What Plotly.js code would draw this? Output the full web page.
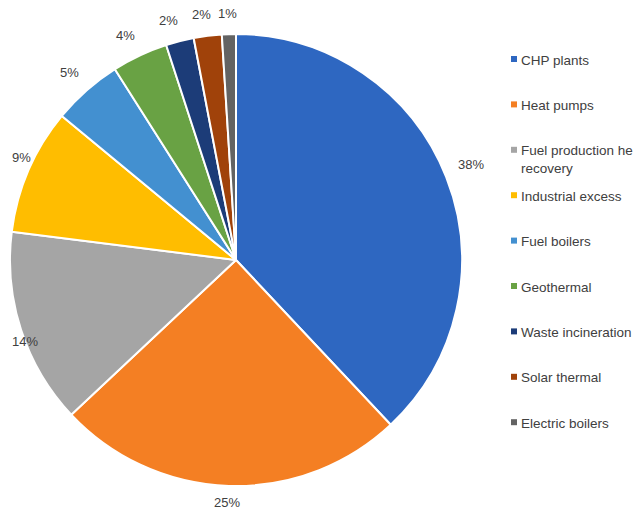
<!DOCTYPE html>
<html><head><meta charset="utf-8">
<script src="https://cdn.plot.ly/plotly-3.0.1.min.js"></script>
<style>html,body{margin:0;padding:0;background:#fff}#chart{width:635px;height:512px}</style>
</head><body><div id="chart"></div>
<script>
var categories = ["CHP plants","Heat pumps","Fuel production he<br>recovery","Industrial excess","Fuel boilers","Geothermal","Waste incineration","Solar thermal","Electric boilers"];
var shares = [38,25,14,9,5,4,2,2,1];
var colors = ["#2E67C1","#F47F23","#A5A5A5","#FFBD00","#4390D0","#69A244","#1C3C78","#A0420A","#636363"];

var W = 635, H = 512;
var cx = 236, cy = 260, r = 226;
var FONT = "Liberation Sans, Arial, sans-serif";

var trace = {
  type: "pie",
  labels: categories,
  values: shares,
  sort: false,
  direction: "clockwise",
  rotation: 0,
  marker: {colors: colors, line: {color: "#ffffff", width: 2}},
  textinfo: "none",
  showlegend: false,
  hoverinfo: "none",
  domain: {x: [(cx - r) / W, (cx + r) / W], y: [(H - cy - r) / H, (H - cy + r) / H]}
};

var annotations = [], shapes = [];

// percentage labels: box placed just outside the slice edge at its mid angle, kept inside the page
function clamp(v, a, b) { return Math.max(a, Math.min(b, v)); }
var total = shares.reduce(function (a, b) { return a + b; }, 0);
var cum = 0, labelR = r + 14, minLeft = 13, maxBottom = 509;
shares.forEach(function (v, i) {
  var mid = (cum + v / 2) / total * 2 * Math.PI;
  cum += v;
  var s = Math.sin(mid), c = Math.cos(mid);
  var txt = v + "%";
  var hw = txt.length * 3.6 + 1, hh = 7;
  var px = cx + labelR * s + hw * clamp(s * 4, -1, 1);
  var py = cy - labelR * c - hh * clamp(c * 4, -1, 1);
  px = Math.max(px, minLeft + hw);
  py = Math.min(py, maxBottom - hh);
  annotations.push({xref: "paper", yref: "paper", x: px / W, y: 1 - py / H,
    xanchor: "center", yanchor: "middle", showarrow: false, text: txt,
    font: {family: FONT, size: 13, color: "#404040"}});
});

// legend
var legendTop = 59, legendStep = 45.4, legendX = 514;
categories.forEach(function (c, i) {
  var y = legendTop + i * legendStep;
  shapes.push({type: "rect", xref: "paper", yref: "paper",
    x0: (legendX - 3) / W, x1: (legendX + 3) / W,
    y0: 1 - (y + 3) / H, y1: 1 - (y - 3) / H,
    fillcolor: colors[i], line: {width: 0}});
  annotations.push({xref: "paper", yref: "paper", x: (legendX + 5) / W, y: 1 - (y - 8.5) / H,
    xanchor: "left", yanchor: "top", align: "left", showarrow: false,
    text: c, font: {family: FONT, size: 13.5, color: "#404040"}});
});

var layout = {
  width: W, height: H,
  margin: {l: 0, r: 0, t: 0, b: 0},
  paper_bgcolor: "#ffffff",
  showlegend: false,
  annotations: annotations,
  shapes: shapes
};
Plotly.newPlot("chart", [trace], layout, {displayModeBar: false, staticPlot: true});
</script></body></html>
